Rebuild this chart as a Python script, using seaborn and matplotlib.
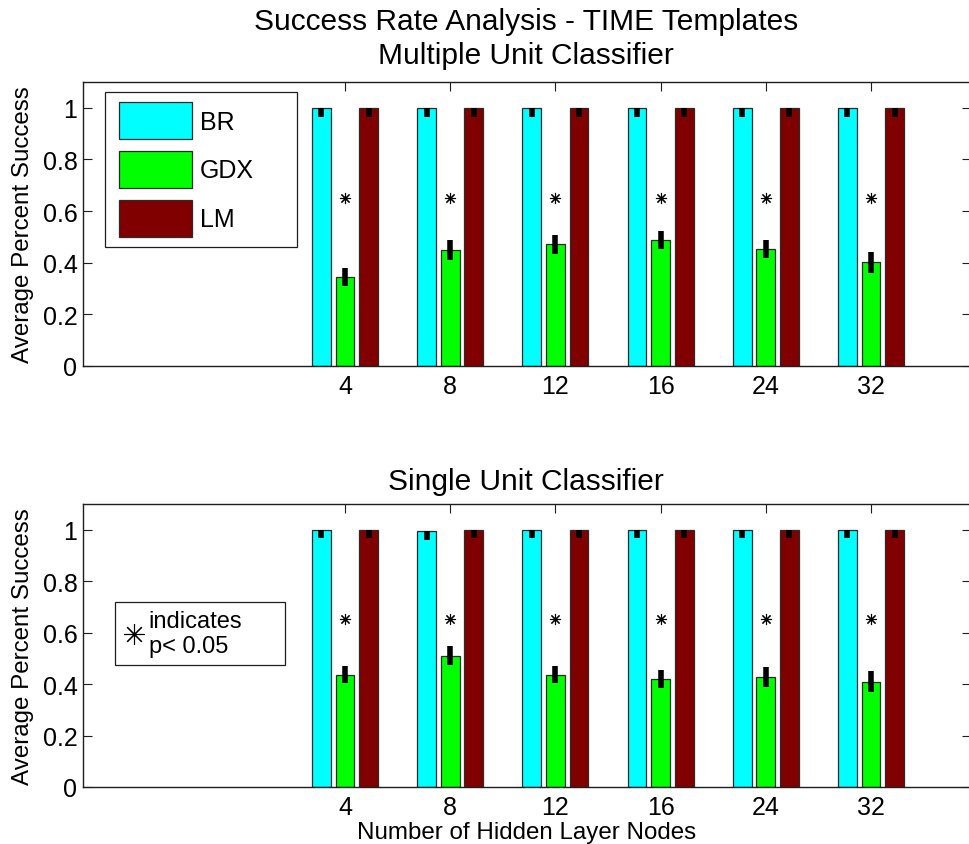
import numpy as np
import pandas as pd
import seaborn as sns
import matplotlib
matplotlib.use("Agg")
import matplotlib.pyplot as plt
from matplotlib.lines import Line2D
from matplotlib.patches import Rectangle
from matplotlib.container import BarContainer

# ---- data -------------------------------------------------------------
nodes = ["4", "8", "12", "16", "24", "32"]
methods = ["BR", "GDX", "LM"]
colors = ["#00FFFF", "#00FF00", "#800000"]

# Multiple unit classifier
multi_br = [1.0, 1.0, 1.0, 1.0, 1.0, 1.0]
multi_gdx = [0.345, 0.449, 0.471, 0.488, 0.453, 0.402]
multi_lm = [1.0, 1.0, 1.0, 1.0, 1.0, 1.0]
multi_br_err = [0.035, 0.035, 0.035, 0.035, 0.035, 0.035]
multi_gdx_err = [0.034, 0.038, 0.037, 0.036, 0.036, 0.040]
multi_lm_err = [0.035, 0.035, 0.035, 0.035, 0.035, 0.035]
multi_signif = [True, True, True, True, True, True]

# Single unit classifier
single_br = [1.0, 0.995, 1.0, 1.0, 1.0, 1.0]
single_gdx = [0.437, 0.510, 0.437, 0.419, 0.428, 0.410]
single_lm = [1.0, 1.0, 1.0, 1.0, 1.0, 1.0]
single_br_err = [0.034, 0.034, 0.034, 0.034, 0.034, 0.034]
single_gdx_err = [0.032, 0.037, 0.034, 0.035, 0.038, 0.039]
single_lm_err = [0.034, 0.034, 0.034, 0.034, 0.034, 0.034]
single_signif = [True, True, True, True, True, True]

star_level = 0.652

# ---- style ------------------------------------------------------------
sns.set_theme(style="white")
plt.rcParams["font.family"] = ["Liberation Sans", "DejaVu Sans"]
for key in ["text.color", "axes.labelcolor", "xtick.color", "ytick.color"]:
    plt.rcParams[key] = "black"

W, H = 969, 845
fig = plt.figure(figsize=(W / 100, H / 100), dpi=100)

AX_L, AX_R = 83, 971


def axes_px(top, bottom):
    return fig.add_axes([AX_L / W, 1 - bottom / H, (AX_R - AX_L) / W, (bottom - top) / H])


ax_top = axes_px(83, 367)
ax_bot = axes_px(505, 788)

TICK_FS = 18
LABEL_FS = 17.4
TITLE_FS = 21.5
EDGE = "#1e1e1e"


def px_to_axes(ax, x, y):
    """figure pixel position (from top-left) -> axes fraction"""
    inv = ax.transAxes.inverted()
    return inv.transform(fig.transFigure.transform((x / W, 1 - y / H)))


def draw_panel(ax, br, gdx, lm, br_err, gdx_err, lm_err, signif):
    df = pd.DataFrame({
        "nodes": nodes * 3,
        "method": [m for m in methods for _ in nodes],
        "value": br + gdx + lm,
    })
    sns.barplot(data=df, x="nodes", y="value", hue="method",
                order=nodes, hue_order=methods, palette=colors,
                width=0.672, gap=0.2, errorbar=None,
                edgecolor="#2a2a2a", linewidth=0.9, legend=False,
                saturation=1, ax=ax)
    bars = [c for c in ax.containers if isinstance(c, BarContainer)]

    # error bars: GDX symmetric, BR / LM only shown below the bar top
    for cont, vals, errs, sym in zip(bars, [br, gdx, lm],
                                     [br_err, gdx_err, lm_err],
                                     [False, True, False]):
        xs = [p.get_x() + p.get_width() / 2 for p in cont.patches]
        lower = np.array(errs)
        upper = np.array(errs) if sym else np.zeros(len(errs))
        ax.errorbar(xs, vals, yerr=[lower, upper], fmt="none",
                    ecolor="black", elinewidth=4.0, capsize=0, zorder=5)

    # significance asterisks above each group
    for i, s in enumerate(signif):
        if s:
            ax.plot([i], [star_level], linestyle="none", marker=(8, 2, 0),
                    markersize=8, markeredgewidth=0.8, color="black", zorder=6)

    ax.set_xlim(-2.49, 5.95)
    ax.set_ylim(0, 1.1)
    ax.set_yticks([0, 0.2, 0.4, 0.6, 0.8, 1.0])
    ax.set_yticklabels(["0", "0.2", "0.4", "0.6", "0.8", "1"])
    ax.set_xticks(range(len(nodes)))
    ax.set_xticklabels(nodes)
    ax.tick_params(axis="both", which="both", direction="in", length=6.5,
                   width=0.8, color=EDGE, labelsize=TICK_FS,
                   top=True, right=True, bottom=True, left=True)
    ax.tick_params(axis="y", pad=4)
    ax.tick_params(axis="x", pad=6)
    ax.set_xlabel("")
    ax.set_ylabel("Average Percent Success", fontsize=LABEL_FS)
    ax.yaxis.set_label_coords((34 - AX_L) / (AX_R - AX_L), 0.5)
    for sp in ax.spines.values():
        sp.set_visible(True)
        sp.set_color(EDGE)
        sp.set_linewidth(1.0)
    ax.set_facecolor("white")
    return bars


bars_top = draw_panel(ax_top, multi_br, multi_gdx, multi_lm,
                      multi_br_err, multi_gdx_err, multi_lm_err, multi_signif)
draw_panel(ax_bot, single_br, single_gdx, single_lm,
           single_br_err, single_gdx_err, single_lm_err, single_signif)

# titles
fig.text(526 / W, 1 - 30 / H, "Success Rate Analysis - TIME Templates",
         ha="center", va="baseline", fontsize=TITLE_FS)
fig.text(526 / W, 1 - 64 / H, "Multiple Unit Classifier",
         ha="center", va="baseline", fontsize=TITLE_FS)
fig.text(526 / W, 1 - 490 / H, "Single Unit Classifier",
         ha="center", va="baseline", fontsize=TITLE_FS)
ax_bot.set_xlabel("Number of Hidden Layer Nodes", fontsize=LABEL_FS, labelpad=1)


def frame_box(ax, x0, y0, x1, y1):
    (ax0, ay1) = px_to_axes(ax, x0, y1)
    (ax1, ay0) = px_to_axes(ax, x1, y0)
    ax.add_patch(Rectangle((ax0, ay1), ax1 - ax0, ay0 - ay1, transform=ax.transAxes,
                           facecolor="white", edgecolor=EDGE, linewidth=0.9,
                           zorder=8, clip_on=False))


# method legend built from the drawn bars
frame_box(ax_top, 105, 93, 297, 248)
handles = [cont.patches[0] for cont in bars_top]
leg = ax_top.legend(handles, methods, loc="upper left",
                    bbox_to_anchor=tuple(px_to_axes(ax_top, 119, 103)),
                    fontsize=18, handlelength=2.9, handleheight=1.9,
                    labelspacing=0.47, handletextpad=0.32, borderpad=0,
                    borderaxespad=0, frameon=False)
leg.set_zorder(9)

# significance key
frame_box(ax_bot, 115, 603, 285, 666)
star_handle = Line2D([], [], linestyle="none", marker=(8, 2, 0), markersize=15,
                     markeredgewidth=0.8, color="black")
leg2 = ax_bot.legend([star_handle], ["indicates\np< 0.05"], loc="upper left",
                     bbox_to_anchor=tuple(px_to_axes(ax_bot, 124, 611)),
                     fontsize=17, handlelength=0.85, handletextpad=0.2,
                     borderpad=0, borderaxespad=0, frameon=False)
leg2.set_zorder(9)

fig.savefig("out.png", dpi=100, facecolor="white")
